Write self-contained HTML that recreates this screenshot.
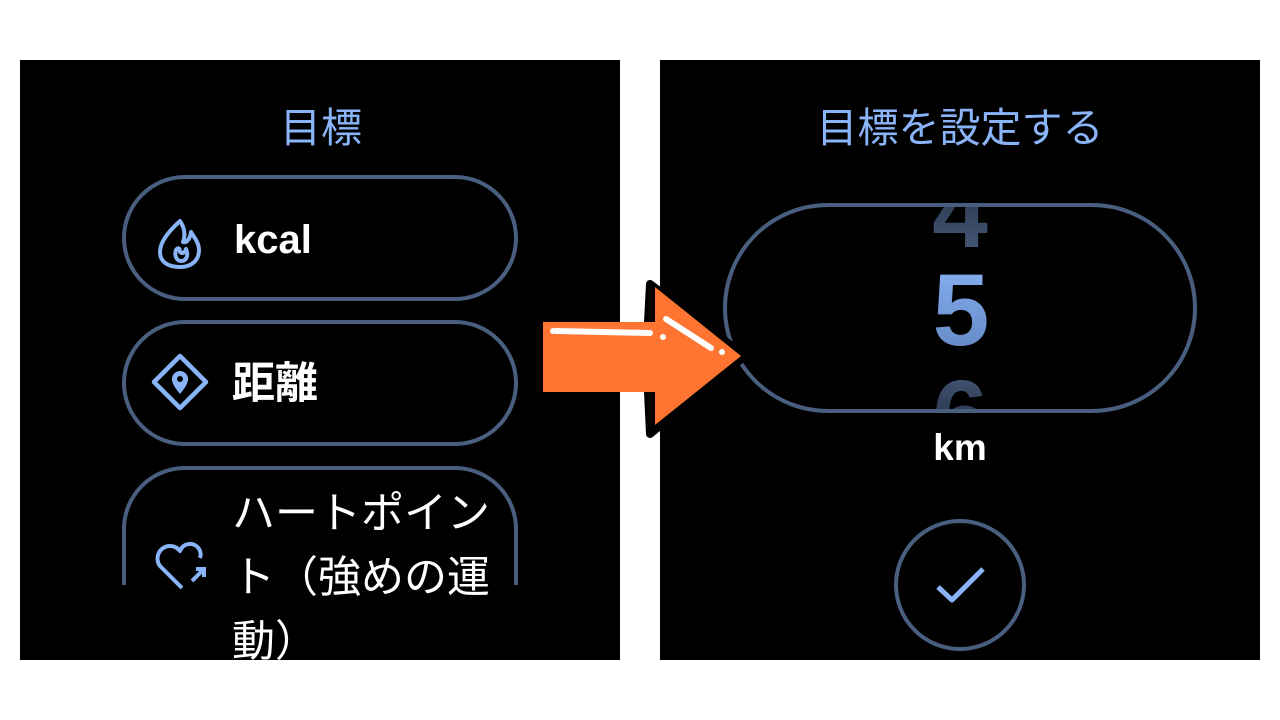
<!DOCTYPE html>
<html><head><meta charset="utf-8"><style>
html,body{margin:0;padding:0;background:#fff;width:1280px;height:720px;overflow:hidden}
</style></head><body>
<svg width="1280" height="720" viewBox="0 0 1280 720" xmlns="http://www.w3.org/2000/svg" font-family="'Liberation Sans','Noto Sans CJK JP',sans-serif">
<defs>
<clipPath id="lp"><rect x="20" y="60" width="600" height="600"/></clipPath>
<clipPath id="pill"><rect x="725" y="205" width="470" height="205" rx="102"/></clipPath>
<linearGradient id="g4" x1="0" y1="0" x2="0" y2="1"><stop offset="0" stop-color="#1e2a3c"/><stop offset="1" stop-color="#4a5f80"/></linearGradient>
<linearGradient id="g6" x1="0" y1="0" x2="0" y2="1"><stop offset="0" stop-color="#4a5f80"/><stop offset="1" stop-color="#0e141e"/></linearGradient>
<linearGradient id="g5" x1="0" y1="0" x2="0" y2="1"><stop offset="0" stop-color="#8ab4f8"/><stop offset="1" stop-color="#5f84bd"/></linearGradient>
</defs>
<rect x="20" y="60" width="600" height="600" fill="#000"/>
<rect x="660" y="60" width="600" height="600" fill="#000"/>
<g clip-path="url(#lp)">
<text x="321" y="142" text-anchor="middle" font-size="41" fill="#8ab4f8">目標</text>
<rect x="124" y="177" width="392" height="122" rx="61" fill="none" stroke="#4a5f80" stroke-width="4"/>
<rect x="124" y="322" width="392" height="122" rx="61" fill="none" stroke="#4a5f80" stroke-width="4"/>
<path d="M124 585 V530 A61 61 0 0 1 185 468 H455 A61 61 0 0 1 516 530 V585" fill="none" stroke="#4a5f80" stroke-width="4"/>
<path d="M180 221 C168 232 160 242 160 252 C160 262 168 267 180 267 C192 267 199 260 199 250 C199 242 193 236 191 232 C190 240 186 243 183 242 C186 234 184 227 180 221 Z M176 250 C174 256 177 261 181 261 C186 261 189 256 186 249 C185 253 182 254 180 252 C180 248 178 247 176 250 Z" fill="none" stroke="#8ab4f8" stroke-width="4" stroke-linejoin="round"/>
<path d="M180 356 L206 382 L180 408 L154 382 Z" fill="none" stroke="#8ab4f8" stroke-width="4.5" stroke-linejoin="round"/>
<path d="M180 394 C176 389 172 384 172 379 A8 8 0 0 1 188 379 C188 384 184 389 180 394 Z" fill="#8ab4f8"/>
<circle cx="180" cy="379" r="3" fill="#000"/>
<path d="M182 588 L160 566 A10 10 0 0 1 180 551 A10 10 0 0 1 200 558" fill="none" stroke="#8ab4f8" stroke-width="4" stroke-linejoin="round"/>
<path d="M192 581 L203 570 M196 569 H204 V577" fill="none" stroke="#8ab4f8" stroke-width="4"/>
<text x="234" y="253" font-size="40" font-weight="bold" fill="#fff">kcal</text>
<text x="232" y="398" font-size="43" font-weight="bold" fill="#fff">距離</text>
<text x="232" y="528" font-size="43" fill="#fff">ハートポイン</text>
<text x="232" y="592" font-size="43" fill="#fff">ト（強めの運</text>
<text x="232" y="656" font-size="43" fill="#fff">動）</text>
</g>
<text x="960" y="142" text-anchor="middle" font-size="41" fill="#8ab4f8">目標を設定する</text>
<g clip-path="url(#pill)">
<text x="960" y="247" text-anchor="middle" font-size="100" font-weight="bold" fill="url(#g4)">4</text>
<text x="960" y="450" text-anchor="middle" font-size="100" font-weight="bold" fill="url(#g6)">6</text>
</g>
<text x="961" y="345" text-anchor="middle" font-size="102" font-weight="bold" fill="url(#g5)">5</text>
<rect x="725" y="205" width="470" height="206" rx="103" fill="none" stroke="#4a5f80" stroke-width="4"/>
<text x="960" y="460" text-anchor="middle" font-size="37" font-weight="bold" fill="#fff">km</text>
<circle cx="960" cy="585" r="64" fill="none" stroke="#4a5f80" stroke-width="4"/>
<path d="M938 587 L952 600 L983 569" fill="none" stroke="#8ab4f8" stroke-width="5" stroke-linejoin="round"/>
<path d="M650 284 L745 356 L650 434 L648 392 L648 322 Z" fill="#000" stroke="#000" stroke-width="8" stroke-linejoin="round"/>
<path d="M543 322 H655 V287 L741 356 L655 425 V392 H543 Z" fill="#ff7430"/>
<path d="M556 331 L650 333" stroke="#fff" stroke-width="6" stroke-linecap="round"/>
<circle cx="553" cy="331" r="3" fill="#fff"/>
<circle cx="663" cy="337" r="3" fill="#fff"/>
<path d="M666 319 L711 348" stroke="#fff" stroke-width="6" stroke-linecap="round"/>
<circle cx="722" cy="352" r="3" fill="#fff"/>
</svg>
</body></html>
